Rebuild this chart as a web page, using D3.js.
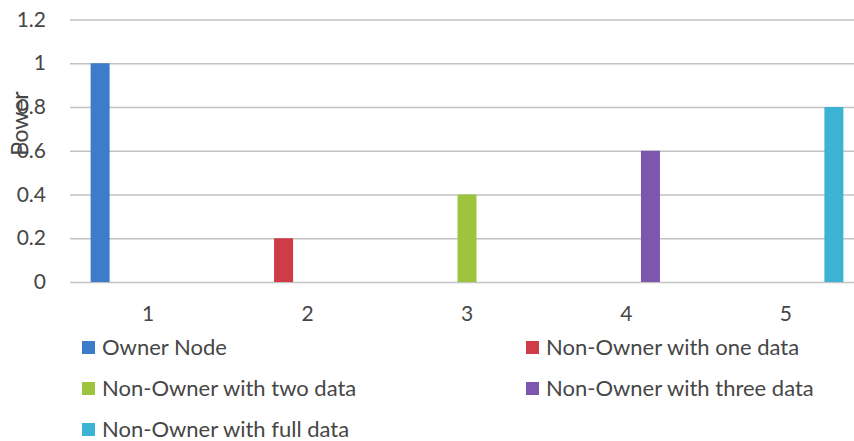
<!DOCTYPE html>
<html>
<head>
<meta charset="utf-8">
<script src="https://cdn.jsdelivr.net/npm/d3@7"></script>
<style>
  html, body { margin: 0; padding: 0; background: #ffffff; }
  svg { display: block; }
  text { font-family: Lato, "Open Sans", sans-serif; fill: #464646; }
</style>
</head>
<body>
<svg id="chart" width="854" height="441"></svg>
<script>
// Categories along the x axis
const categories = ["1", "2", "3", "4", "5"];

// Series names (legend order)
const seriesNames = [
  "Owner Node",
  "Non-Owner with one data",
  "Non-Owner with two data",
  "Non-Owner with three data",
  "Non-Owner with full data"
];

// Values per series, one entry per category
const ownerNode      = [1.0, 0, 0, 0, 0];
const nonOwnerOne    = [0, 0.2, 0, 0, 0];
const nonOwnerTwo    = [0, 0, 0.4, 0, 0];
const nonOwnerThree  = [0, 0, 0, 0.6, 0];
const nonOwnerFull   = [0, 0, 0, 0, 0.8];
const seriesValues = [ownerNode, nonOwnerOne, nonOwnerTwo, nonOwnerThree, nonOwnerFull];

// Y axis tick values
const yTicks = [0, 0.2, 0.4, 0.6, 0.8, 1, 1.2];

const colors = ["#3d7cc9", "#d03b48", "#9cc43f", "#7c57ad", "#3db3d3"];

const svg = d3.select("#chart");
const W = 854;
const plotLeft = 70, plotTop = 19.5, plotBottom = 282;

const y = d3.scaleLinear().domain([0, 1.2]).range([plotBottom, plotTop]);
const x0 = d3.scaleBand().domain(categories).range([68.5, 865.5]).padding(0);
const x1 = d3.scaleBand().domain(d3.range(seriesNames.length))
  .range([0, x0.bandwidth()]).paddingInner(0.21).paddingOuter(0.92);

// Horizontal gridlines with value labels
const yAxis = d3.axisLeft(y)
  .tickValues(yTicks)
  .tickFormat(d => String(+d.toFixed(1)))
  .tickSizeInner(-(W - plotLeft))
  .tickSizeOuter(0)
  .tickPadding(24);

const gy = svg.append("g")
  .attr("transform", `translate(${plotLeft},0)`)
  .call(yAxis);
gy.select(".domain").remove();
gy.selectAll(".tick line").attr("stroke", "#c2c2c2").attr("stroke-width", 1.7);
gy.selectAll(".tick text").attr("font-size", 21).style("fill", "#464646");

// Category labels
const xAxis = d3.axisBottom(x0).tickSize(0).tickPadding(0);
const gx = svg.append("g")
  .attr("transform", `translate(0,${plotBottom})`)
  .call(xAxis);
gx.select(".domain").remove();
gx.selectAll(".tick text")
  .attr("font-size", 21)
  .attr("dy", null)
  .attr("y", 39)
  .style("fill", "#464646");

// Bars
const groups = svg.append("g").selectAll("g")
  .data(categories)
  .join("g")
  .attr("transform", d => `translate(${x0(d)},0)`);

groups.selectAll("rect")
  .data((c, ci) => seriesValues.map((vals, si) => ({ si, v: vals[ci] })))
  .join("rect")
  .attr("x", d => x1(d.si))
  .attr("width", x1.bandwidth())
  .attr("y", d => y(d.v))
  .attr("height", d => y(0) - y(d.v))
  .attr("fill", d => colors[d.si]);

// Y axis title
svg.append("text")
  .attr("transform", "translate(28,123.5) rotate(-90)")
  .attr("text-anchor", "middle")
  .attr("font-size", 23)
  .text("Power");

// Legend: two columns, three rows
const legendCols = [82, 526];
const legendRows = [341, 382, 423];
const legend = svg.append("g").selectAll("g")
  .data(seriesNames)
  .join("g")
  .attr("transform", (d, i) => `translate(${legendCols[i % 2]},${legendRows[Math.floor(i / 2)]})`);

legend.append("rect")
  .attr("width", 13)
  .attr("height", 13)
  .attr("fill", (d, i) => colors[i]);

legend.append("text")
  .attr("x", 20)
  .attr("y", 14)
  .attr("font-size", 22)
  .text(d => d);
</script>
</body>
</html>
